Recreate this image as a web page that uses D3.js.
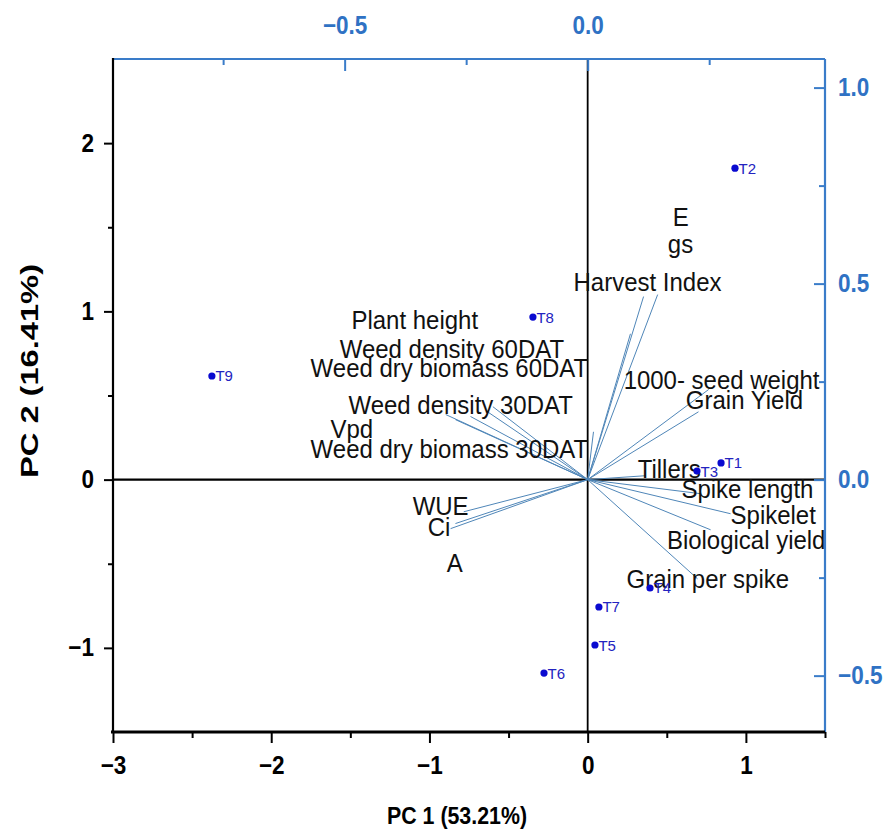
<!DOCTYPE html>
<html>
<head>
<meta charset="utf-8">
<script src="https://cdn.jsdelivr.net/npm/d3@7"></script>
<style>
  html, body { margin: 0; padding: 0; background: #fff; }
  svg { display: block; }
  text { font-family: "Liberation Sans", Arial, sans-serif; }
</style>
</head>
<body>
<svg id="chart" width="887" height="834"></svg>
<script>
// ---------- data ----------
const obsNames = ["T1", "T2", "T3", "T4", "T5", "T6", "T7", "T8", "T9"];
const obsPC1   = [0.843, 0.931, 0.691, 0.394, 0.046, -0.276, 0.071, -0.346, -2.375];
const obsPC2   = [0.099, 1.851, 0.051, -0.644, -0.983, -1.150, -0.757, 0.966, 0.616];

const varNames = ["E", "gs", "Harvest Index", "Plant height", "Weed density 60DAT",
  "Weed dry biomass 60DAT", "Weed density 30DAT", "Vpd", "Weed dry biomass 30DAT",
  "1000- seed weight", "Grain Yield", "Tillers", "Spike length", "Spikelet",
  "Biological yield", "Grain per spike", "WUE", "Ci", "A"];
// loadings (top / right axes)
const varPC1 = [0.144, 0.115, 0.088, 0.012, -0.206, -0.195, -0.292, -0.272, -0.241,
  0.249, 0.228, 0.119, 0.233, 0.294, 0.253, 0.226, -0.255, -0.282, -0.272];
const varPC2 = [0.472, 0.467, 0.372, 0.122, 0.173, 0.186, 0.166, 0.153, 0.161,
  0.230, 0.173, 0.010, -0.036, -0.087, -0.128, -0.253, -0.082, -0.125, -0.112];
// label anchor (loading units)
const labPC1 = [0.175, 0.165, -0.029, -0.486, -0.510, -0.570, -0.492, -0.529, -0.570,
  0.074, 0.202, 0.103, 0.193, 0.294, 0.163, 0.080, -0.360, -0.329, -0.290];
const labPC2 = [0.648, 0.577, 0.480, 0.385, 0.309, 0.263, 0.168, 0.105, 0.054,
  0.232, 0.179, 0.005, -0.048, -0.112, -0.176, -0.276, -0.089, -0.145, -0.235];

const xDomain = [-3, 1.5];
const yDomain = [-1.5, 2.5];
const xMajor = [-3, -2, -1, 0, 1];
const xMinor = [-2.5, -1.5, -0.5, 0.5, 1.5];
const yMajor = [-1, 0, 1, 2];
const yMinor = [-0.5, 0.5, 1.5];
const topMajor = [-0.5, 0.0];
const topMinor = [-0.75, -0.25, 0.25];
const rightMajor = [-0.5, 0.0, 0.5, 1.0];
const rightMinor = [-0.25, 0.25, 0.75];
const xTitle = "PC 1 (53.21%)";
const yTitle = "PC 2 (16.41%)";
const topRatio = 3.072;
const rightRatio = 2.33;

// ---------- layout ----------
const L = 113, R = 825, T = 59, B = 732;
const svg = d3.select("#chart");
const x = d3.scaleLinear().domain(xDomain).range([L, R]);
const y = d3.scaleLinear().domain(yDomain).range([B, T]);
const xt = d3.scaleLinear().domain(xDomain.map(d => d / topRatio)).range([L, R]);
const yr = d3.scaleLinear().domain(yDomain.map(d => d / rightRatio)).range([B, T]);

const blue = "#3a7cc9";
const blueText = "#2f72c4";
const minus = s => s.replace("-", "\u2212");

// condense text horizontally (taller glyphs, same width)
function condense(sel, f) {
  sel.each(function () {
    const w = this.getComputedTextLength();
    d3.select(this).attr("textLength", w * f).attr("lengthAdjust", "spacingAndGlyphs");
  });
}

// zero lines
svg.append("line").attr("x1", x(0)).attr("x2", x(0)).attr("y1", T).attr("y2", B)
  .attr("stroke", "#000").attr("stroke-width", 1.8);
svg.append("line").attr("x1", L).attr("x2", R).attr("y1", y(0)).attr("y2", y(0))
  .attr("stroke", "#000").attr("stroke-width", 2.2);

// loading vectors
const vec = svg.append("g");
varNames.forEach((n, i) => {
  vec.append("line")
    .attr("x1", xt(0)).attr("y1", yr(0))
    .attr("x2", xt(varPC1[i])).attr("y2", yr(varPC2[i]))
    .attr("stroke", "#4f86b8").attr("stroke-width", 1);
});
// loading labels
const labs = svg.append("g");
varNames.forEach((n, i) => {
  labs.append("text")
    .attr("x", xt(labPC1[i])).attr("y", yr(labPC2[i]))
    .attr("font-size", 25.5).attr("fill", "#111")
    .text(n);
});
condense(labs.selectAll("text"), 0.94);

// observations
const obs = svg.append("g");
obsNames.forEach((n, i) => {
  obs.append("circle").attr("cx", x(obsPC1[i])).attr("cy", y(obsPC2[i]))
    .attr("r", 3.6).attr("fill", "#0a0ad0");
  obs.append("text").attr("x", x(obsPC1[i]) + 3.5).attr("y", y(obsPC2[i]) + 5.5)
    .attr("font-size", 15).attr("fill", "#2323c0").text(n);
});

// ---------- axes ----------
function styleAxis(g, color, textColor) {
  g.select(".domain").remove();
  g.selectAll(".tick line").attr("stroke", color).attr("stroke-width", 2);
  g.selectAll(".tick text").attr("fill", textColor)
    .attr("font-size", 25).attr("font-weight", "bold")
    .attr("font-family", "'Liberation Sans', Arial, sans-serif");
  condense(g.selectAll(".tick text"), 0.9);
}

// bottom
const gb = svg.append("g").attr("transform", `translate(0,${B})`)
  .call(d3.axisBottom(x).tickValues(xMajor).tickSize(11).tickPadding(13)
    .tickFormat(d => minus(d3.format("d")(d))));
styleAxis(gb, "#000", "#000");
svg.append("g").attr("transform", `translate(0,${B})`)
  .call(d3.axisBottom(x).tickValues(xMinor).tickSize(6).tickFormat(""))
  .call(g => styleAxis(g, "#000", "#000"));
// left
const gl = svg.append("g").attr("transform", `translate(${L},0)`)
  .call(d3.axisLeft(y).tickValues(yMajor).tickSize(9).tickPadding(10)
    .tickFormat(d => minus(d3.format("d")(d))));
styleAxis(gl, "#000", "#000");
svg.append("g").attr("transform", `translate(${L},0)`)
  .call(d3.axisLeft(y).tickValues(yMinor).tickSize(5).tickFormat(""))
  .call(g => styleAxis(g, "#000", "#000"));
// top (ticks inward)
const gt = svg.append("g").attr("transform", `translate(0,${T})`)
  .call(d3.axisTop(xt).tickValues(topMajor).tickSizeInner(-12).tickSizeOuter(0).tickPadding(25)
    .tickFormat(d => minus(d3.format(".1f")(d))));
styleAxis(gt, blue, blueText);
svg.append("g").attr("transform", `translate(0,${T})`)
  .call(d3.axisTop(xt).tickValues(topMinor).tickSizeInner(-6).tickSizeOuter(0).tickFormat(""))
  .call(g => styleAxis(g, blue, blueText));
// right (ticks inward)
const gr = svg.append("g").attr("transform", `translate(${R},0)`)
  .call(d3.axisRight(yr).tickValues(rightMajor).tickSizeInner(-11).tickSizeOuter(0).tickPadding(13)
    .tickFormat(d => minus(d3.format(".1f")(d))));
styleAxis(gr, blue, blueText);
svg.append("g").attr("transform", `translate(${R},0)`)
  .call(d3.axisRight(yr).tickValues(rightMinor).tickSizeInner(-6).tickSizeOuter(0).tickFormat(""))
  .call(g => styleAxis(g, blue, blueText));

// frame lines
svg.append("line").attr("x1", L).attr("x2", R).attr("y1", T).attr("y2", T)
  .attr("stroke", blue).attr("stroke-width", 2.2);
svg.append("line").attr("x1", R).attr("x2", R).attr("y1", T).attr("y2", B)
  .attr("stroke", blue).attr("stroke-width", 2.2);
svg.append("line").attr("x1", L).attr("x2", L).attr("y1", T - 1).attr("y2", B)
  .attr("stroke", "#000").attr("stroke-width", 2.2);
svg.append("line").attr("x1", L - 2).attr("x2", R).attr("y1", B).attr("y2", B)
  .attr("stroke", "#000").attr("stroke-width", 3);

// titles
svg.append("text").attr("x", 457).attr("y", 824).attr("text-anchor", "middle")
  .attr("font-size", 24).attr("font-weight", "bold")
  .attr("textLength", 140).attr("lengthAdjust", "spacingAndGlyphs")
  .text(xTitle);
svg.append("text").attr("transform", "translate(38,371) rotate(-90)")
  .attr("text-anchor", "middle")
  .attr("font-size", 24).attr("font-weight", "bold")
  .attr("textLength", 214).attr("lengthAdjust", "spacingAndGlyphs")
  .text(yTitle);
</script>
</body>
</html>
